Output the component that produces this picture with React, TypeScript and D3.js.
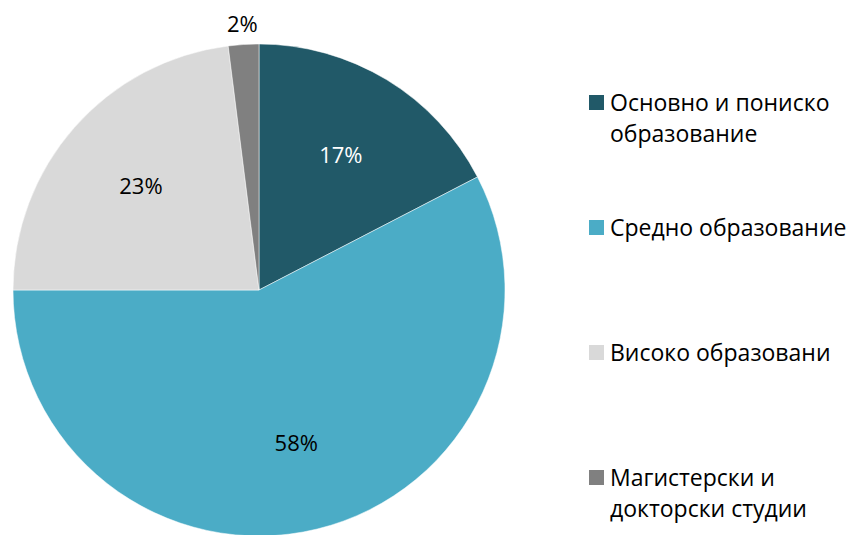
import React, { useEffect, useRef } from "react";
import * as d3 from "d3";

const categories = [
  "Основно и пониско образование",
  "Средно образование",
  "Високо образовани",
  "Магистерски и докторски студии",
];
const legendLines = [
  ["Основно и пониско", "образование"],
  ["Средно образование"],
  ["Високо образовани"],
  ["Магистерски и", "докторски студии"],
];
const values = [17.4, 57.6, 23.0, 2.0];
const colors = ["#215968", "#4BACC6", "#D9D9D9", "#808080"];
const labelColors = ["#ffffff", "#000000", "#000000", "#000000"];

const W = 854;
const H = 535;
const FONT = "'Open Sans', 'Noto Sans', sans-serif";

export default function App() {
  const ref = useRef<SVGSVGElement>(null);

  useEffect(() => {
    const svg = d3.select(ref.current);
    svg.selectAll("*").remove();

    const cx = 259, cy = 290, r = 246;
    const pie = d3.pie<number>().sort(null).value((d) => d);
    const arcs = pie(values);
    const arc = d3.arc<d3.PieArcDatum<number>>().innerRadius(0).outerRadius(r);
    const labelArc = d3.arc<d3.PieArcDatum<number>>().innerRadius(r * 0.64).outerRadius(r * 0.64);
    const outerArc = d3.arc<d3.PieArcDatum<number>>().innerRadius(r + 20).outerRadius(r + 20);

    const g = svg.append("g").attr("transform", `translate(${cx},${cy})`);
    g.selectAll("path")
      .data(arcs)
      .enter()
      .append("path")
      .attr("d", arc)
      .attr("fill", (d, i) => colors[i])
      .attr("stroke", "#ffffff")
      .attr("stroke-width", 0.5);

    g.selectAll("text")
      .data(arcs)
      .enter()
      .append("text")
      .attr("transform", (d) => {
        const p = d.data < 5 ? outerArc.centroid(d) : labelArc.centroid(d);
        return `translate(${p[0]},${p[1]})`;
      })
      .attr("text-anchor", "middle")
      .attr("dy", "0.35em")
      .attr("font-family", FONT)
      .attr("font-size", 22)
      .attr("fill", (d, i) => labelColors[i])
      .text((d) => Math.round(d.data) + "%");

    const legendY = d3.scalePoint<string>().domain(categories).range([103, 478]);
    const lg = svg.append("g");
    categories.forEach((c, i) => {
      const y = legendY(c) as number;
      lg.append("rect")
        .attr("x", 589)
        .attr("y", y - 8)
        .attr("width", 15)
        .attr("height", 15)
        .attr("fill", colors[i]);
      const t = lg.append("text")
        .attr("x", 610)
        .attr("y", y)
        .attr("font-family", FONT)
        .attr("font-size", 23)
        .attr("fill", "#000");
      legendLines[i].forEach((line, j) => {
        t.append("tspan").attr("x", 610).attr("dy", j === 0 ? "0.35em" : 31).text(line);
      });
    });
  }, []);

  return (
    <svg
      ref={ref}
      width={W}
      height={H}
      style={{ position: "absolute", left: 0, top: 0, background: "#fff" }}
    />
  );
}
